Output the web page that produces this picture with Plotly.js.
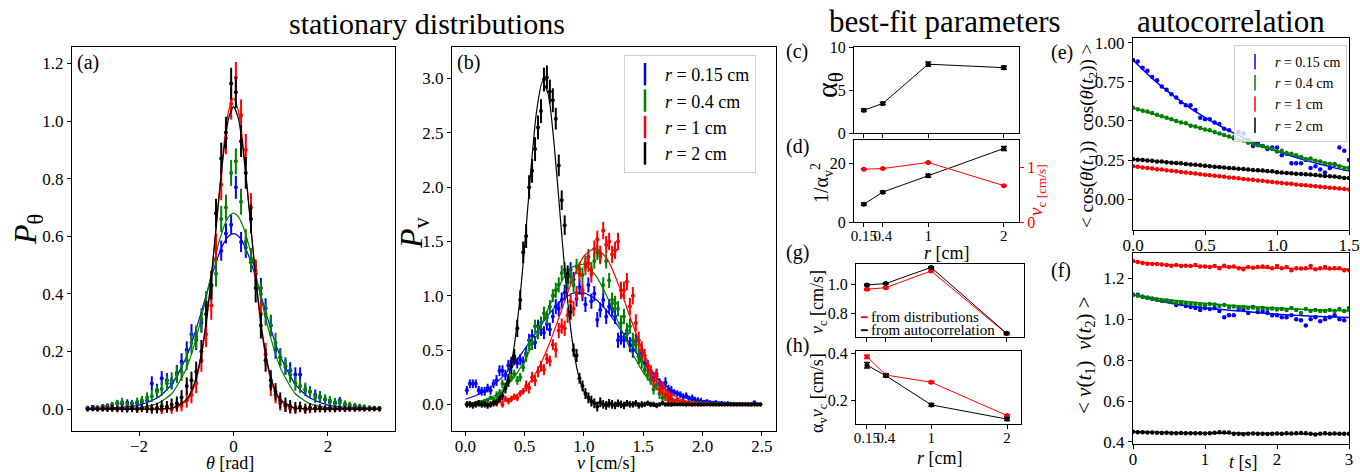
<!DOCTYPE html>
<html><head><meta charset="utf-8">
<script src="https://cdn.plot.ly/plotly-3.0.1.min.js"></script>
<style>html,body{margin:0;padding:0;background:#fff}#chart{width:1360px;height:472px}</style>
</head><body><div id="chart"></div>
<script>
// ---------------- DATA ----------------
// (a) angular distributions
const thetaBins = [-3.09,-2.98,-2.88,-2.77,-2.67,-2.57,-2.46,-2.36,-2.25,-2.15,-2.04,-1.94,-1.83,-1.73,-1.62,-1.52,-1.41,-1.31,-1.20,-1.10,-0.99,-0.89,-0.79,-0.68,-0.58,-0.47,-0.37,-0.26,-0.16,-0.05,0.05,0.16,0.26,0.37,0.47,0.58,0.68,0.79,0.89,0.99,1.10,1.20,1.31,1.41,1.52,1.62,1.73,1.83,1.94,2.04,2.15,2.25,2.36,2.46,2.57,2.67,2.77,2.88,2.98,3.09];
const pThetaBlue = [0.005,0.008,0.006,0.010,0.012,0.015,0.020,0.018,0.022,0.020,0.020,0.025,0.030,0.089,0.066,0.107,0.100,0.090,0.125,0.164,0.205,0.260,0.240,0.300,0.360,0.430,0.520,0.550,0.610,0.640,0.770,0.580,0.560,0.510,0.480,0.420,0.350,0.290,0.205,0.180,0.147,0.135,0.120,0.120,0.066,0.060,0.050,0.040,0.033,0.025,0.020,0.030,0.015,0.012,0.010,0.008,0.006,0.005,0.004,0.004];
const pThetaGreen = [0.003,0.005,0.006,0.008,0.010,0.014,0.020,0.025,0.015,0.018,0.025,0.030,0.040,0.045,0.060,0.070,0.090,0.100,0.120,0.130,0.170,0.230,0.250,0.310,0.370,0.420,0.470,0.660,0.700,0.820,0.860,0.720,0.580,0.520,0.470,0.400,0.330,0.290,0.230,0.180,0.150,0.120,0.090,0.080,0.070,0.060,0.040,0.045,0.035,0.030,0.025,0.022,0.018,0.015,0.012,0.010,0.008,0.006,0.005,0.004];
const pThetaRed = [0.000,0.000,0.002,0.000,0.003,0.000,0.002,0.000,0.003,0.001,0.000,0.002,0.000,0.004,0.000,-0.002,0.002,0.000,0.008,0.012,0.030,0.050,0.090,0.170,0.260,0.360,0.560,0.780,0.940,1.060,1.150,1.020,0.900,0.700,0.470,0.330,0.190,0.080,0.050,0.020,0.010,0.002,0.000,0.004,-0.002,0.000,0.003,0.000,0.002,0.000,0.001,0.000,0.002,0.000,0.001,0.000,0.000,0.001,0.000,0.000];
const pThetaBlack = [0.000,0.001,0.000,0.002,0.000,0.003,0.000,0.002,0.000,0.003,0.000,0.005,0.002,0.000,0.004,0.010,0.008,0.015,0.020,0.040,0.080,0.100,0.130,0.200,0.330,0.430,0.680,0.870,0.960,1.130,1.100,0.930,0.820,0.660,0.420,0.290,0.170,0.100,0.060,0.030,0.015,0.010,0.005,0.008,0.003,0.005,0.002,0.004,0.000,0.003,0.000,0.002,0.000,0.001,0.000,0.001,0.000,0.000,0.001,0.000];
const errThetaBlue = [0.006,0.006,0.006,0.008,0.008,0.010,0.012,0.012,0.012,0.012,0.012,0.014,0.016,0.025,0.022,0.025,0.025,0.022,0.028,0.030,0.030,0.035,0.035,0.035,0.035,0.035,0.035,0.035,0.035,0.035,0.040,0.035,0.035,0.035,0.035,0.035,0.035,0.035,0.030,0.030,0.028,0.028,0.025,0.025,0.020,0.020,0.018,0.016,0.015,0.014,0.012,0.012,0.010,0.010,0.008,0.008,0.006,0.006,0.006,0.005];
const errThetaGreen = [0.004,0.005,0.006,0.007,0.008,0.010,0.012,0.014,0.012,0.013,0.015,0.016,0.018,0.020,0.022,0.024,0.026,0.028,0.030,0.032,0.035,0.038,0.040,0.040,0.040,0.040,0.045,0.045,0.045,0.045,0.045,0.045,0.045,0.040,0.040,0.040,0.040,0.038,0.035,0.032,0.030,0.028,0.026,0.024,0.022,0.020,0.018,0.018,0.016,0.015,0.014,0.013,0.012,0.011,0.010,0.009,0.008,0.007,0.006,0.005];
const errThetaRed = [0.008,0.008,0.009,0.009,0.010,0.010,0.011,0.011,0.012,0.012,0.012,0.013,0.013,0.014,0.014,0.015,0.015,0.016,0.018,0.020,0.025,0.030,0.035,0.040,0.045,0.050,0.050,0.055,0.055,0.055,0.055,0.055,0.055,0.050,0.050,0.045,0.040,0.035,0.030,0.025,0.020,0.018,0.016,0.015,0.015,0.014,0.013,0.012,0.012,0.011,0.011,0.010,0.010,0.009,0.009,0.008,0.008,0.008,0.008,0.008];
const errThetaBlack = [0.008,0.008,0.009,0.009,0.010,0.010,0.011,0.011,0.012,0.012,0.013,0.014,0.015,0.016,0.018,0.020,0.020,0.022,0.024,0.026,0.030,0.030,0.035,0.040,0.045,0.050,0.050,0.055,0.055,0.055,0.055,0.055,0.055,0.050,0.050,0.045,0.040,0.035,0.030,0.028,0.025,0.022,0.020,0.018,0.016,0.015,0.014,0.013,0.012,0.011,0.011,0.010,0.010,0.009,0.009,0.008,0.008,0.008,0.008,0.008];
// (a) fitted curves
const thetaFit = [-3.1,-2.5,-2.0,-1.6,-1.3,-1.0,-0.9,-0.8,-0.7,-0.6,-0.5,-0.4,-0.3,-0.2,-0.1,0,0.1,0.2,0.3,0.4,0.5,0.6,0.7,0.8,0.9,1.0,1.3,1.6,2.0,2.5,3.1];
const fitThetaBlue = [0.003,0.005,0.014,0.040,0.0875,0.180,0.223,0.273,0.327,0.383,0.440,0.494,0.541,0.578,0.601,0.609,0.601,0.578,0.541,0.494,0.440,0.383,0.327,0.273,0.223,0.180,0.0875,0.040,0.014,0.005,0.003];
const fitThetaGreen = [0.0007,0.0014,0.005,0.020,0.055,0.140,0.186,0.241,0.303,0.373,0.447,0.519,0.584,0.635,0.668,0.680,0.668,0.635,0.584,0.519,0.447,0.373,0.303,0.241,0.186,0.140,0.055,0.020,0.005,0.0014,0.0007];
const fitThetaRed = [0,0,0,0.0003,0.003,0.027,0.052,0.096,0.165,0.266,0.406,0.575,0.755,0.921,1.038,1.080,1.038,0.921,0.755,0.575,0.406,0.266,0.165,0.096,0.052,0.027,0.003,0.0003,0,0,0];
const fitThetaBlack = [0,0,0,0.0004,0.004,0.032,0.059,0.105,0.176,0.278,0.414,0.576,0.747,0.903,1.011,1.050,1.011,0.903,0.747,0.576,0.414,0.278,0.176,0.105,0.059,0.032,0.004,0.0004,0,0,0];

// (b) speed distributions
const vBins = [0.0125,0.0375,0.0625,0.0875,0.1125,0.1375,0.1625,0.1875,0.2125,0.2375,0.2625,0.2875,0.3125,0.3375,0.3625,0.3875,0.4125,0.4375,0.4625,0.4875,0.5125,0.5375,0.5625,0.5875,0.6125,0.6375,0.6625,0.6875,0.7125,0.7375,0.7625,0.7875,0.8125,0.8375,0.8625,0.8875,0.9125,0.9375,0.9625,0.9875,1.0125,1.0375,1.0625,1.0875,1.1125,1.1375,1.1625,1.1875,1.2125,1.2375,1.2625,1.2875,1.3125,1.3375,1.3625,1.3875,1.4125,1.4375,1.4625,1.4875,1.5125,1.5375,1.5625,1.5875,1.6125,1.6375,1.6625,1.6875,1.7125,1.7375,1.7625,1.7875,1.8125,1.8375,1.8625,1.8875,1.9125,1.9375,1.9625,1.9875,2.0125,2.0375,2.0625,2.0875,2.1125,2.1375,2.1625,2.1875,2.2125,2.2375,2.2625,2.2875,2.3125,2.3375,2.3625,2.3875,2.4125,2.4375,2.4625,2.4875];
const pvBlue = [0.13,0.19,0.19,0.19,0.13,0.12,0.12,0.15,0.13,0.19, 0.22,0.31,0.31,0.27,0.36,0.39,0.41,0.38,0.41,0.39, 0.47,0.59,0.63,0.57,0.72,0.69,0.66,0.74,0.69,0.81, 0.90,0.88,0.96,1.03,1.17,1.24,1.15,0.97,1.08,1.02, 0.92,1.10,0.95,1.02,0.78,0.87,0.96,0.81,0.90,0.88, 0.81,0.59,0.62,0.59,0.65,0.55,0.50,0.58,0.44,0.47, 0.38,0.36,0.30,0.25,0.28,0.19,0.16,0.20,0.13,0.12, 0.11,0.10,0.09,0.07,0.08,0.05,0.06,0.04,0.035,0.03, 0.025,0.03,0.02,0.015,0.02,0.01,0.012,0.008,0.01,0.006, 0.005,0.004,0.006,0.003,0.004,0.002,0.003,0.02,0.002,0.001];
const pvGreen = [0.00,0.01,0.00,0.01,0.02,0.02,0.03,0.04,0.06,0.05, 0.08,0.10,0.19,0.15,0.22,0.25,0.28,0.22,0.25,0.34, 0.45,0.55,0.56,0.72,0.66,0.75,0.84,0.80,0.90,1.00, 1.05,1.10,1.21,1.24,1.12,1.18,1.10,1.27,1.24,1.19, 1.30,1.36,1.24,1.32,1.40,1.36,1.10,1.32,1.14,0.96, 0.93,0.88,0.75,0.81,0.68,0.72,0.59,0.55,0.44,0.40, 0.32,0.27,0.23,0.14,0.18,0.10,0.06,0.08,0.04,0.05, 0.03,0.04,0.02,0.03,0.015,0.02,0.01,0.012,0.008,0.01, 0.006,0.005,0.004,0.003,0.004,0.002,0.002,0.001,0.002,0.001, 0.001,0.000,0.001,0.000,0.001,0.000,0.000,0.001,0.000,0.000];
const pvRed = [0.00,0.00,0.00,0.00,0.00,0.00,0.01,0.00,0.00,0.01, 0.01,0.04,0.00,0.05,0.03,0.05,0.07,0.06,0.10,0.12, 0.17,0.15,0.25,0.22,0.30,0.35,0.32,0.42,0.40,0.55, 0.50,0.68,0.72,0.70,0.82,0.95,0.88,1.02,1.20,1.05, 1.27,1.30,1.20,1.43,1.52,1.38,1.60,1.47,1.50,1.38, 1.42,1.50,1.05,1.05,1.13,0.90,1.00,0.75,0.59,0.50, 0.45,0.35,0.30,0.22,0.26,0.14,0.15,0.09,0.07,0.05, 0.02,0.04,0.01,0.02,0.00,0.01,0.00,0.01,0.00,0.00, 0.00,0.01,0.00,0.00,0.00,0.00,0.00,0.00,0.00,0.00, 0.00,0.00,0.00,0.00,0.00,0.00,0.00,0.00,0.00,0.00];
const pvBlack = [0.00,0.00,-0.01,0.00,0.01,0.00,0.00,-0.01,0.00,0.01, 0.02,0.05,0.08,0.15,0.22,0.35,0.44,0.70,0.96,1.40, 1.55,2.00,2.15,2.35,2.55,2.70,2.99,3.01,2.88,2.80, 2.63,2.20,1.88,1.65,1.20,0.85,0.50,0.45,0.24,0.17, 0.10,0.06,0.03,0.01,-0.02,0.02,0.00,-0.01,0.01,0.00, -0.01,0.01,0.00,-0.01,0.01,0.00,0.00,0.01,-0.01,0.00, 0.00,0.01,0.00,0.00,-0.01,0.00,0.01,0.00,0.00,0.00, 0.00,0.00,0.00,0.00,0.00,0.00,0.00,0.00,0.00,0.00, 0.00,0.00,0.00,0.00,0.00,0.00,0.00,0.00,0.00,0.00, 0.00,0.00,0.00,0.00,0.00,0.00,0.00,0.00,0.00,0.00];
const errVBlue = [0.04,0.04,0.04,0.04,0.04,0.04,0.04,0.04,0.04,0.04, 0.05,0.05,0.05,0.05,0.05,0.05,0.05,0.05,0.05,0.05, 0.06,0.06,0.06,0.06,0.06,0.06,0.06,0.06,0.06,0.06, 0.07,0.07,0.07,0.07,0.07,0.07,0.07,0.07,0.07,0.07, 0.07,0.07,0.07,0.07,0.07,0.07,0.07,0.07,0.07,0.07, 0.07,0.07,0.07,0.07,0.07,0.07,0.07,0.07,0.07,0.07, 0.05,0.05,0.05,0.05,0.05,0.05,0.05,0.05,0.05,0.05, 0.03,0.03,0.03,0.03,0.03,0.03,0.03,0.03,0.03,0.03, 0.015,0.015,0.015,0.015,0.015,0.015,0.015,0.015,0.015,0.015, 0.008,0.008,0.008,0.008,0.008,0.008,0.008,0.008,0.008,0.008];
const errVGreen = [0.02,0.02,0.02,0.02,0.02,0.02,0.02,0.02,0.02,0.02, 0.04,0.04,0.04,0.04,0.04,0.04,0.04,0.04,0.04,0.04, 0.06,0.06,0.06,0.06,0.06,0.06,0.06,0.06,0.06,0.06, 0.07,0.07,0.07,0.07,0.07,0.07,0.07,0.07,0.07,0.07, 0.07,0.07,0.07,0.07,0.07,0.07,0.07,0.07,0.07,0.07, 0.07,0.07,0.07,0.07,0.07,0.07,0.07,0.07,0.07,0.07, 0.05,0.05,0.05,0.05,0.05,0.05,0.05,0.05,0.05,0.05, 0.02,0.02,0.02,0.02,0.02,0.02,0.02,0.02,0.02,0.02, 0.01,0.01,0.01,0.01,0.01,0.01,0.01,0.01,0.01,0.01, 0.005,0.005,0.005,0.005,0.005,0.005,0.005,0.005,0.005,0.005];
const errVRed = [0.015,0.015,0.015,0.015,0.015,0.015,0.015,0.015,0.015,0.015, 0.03,0.03,0.03,0.03,0.03,0.03,0.03,0.03,0.03,0.03, 0.05,0.05,0.05,0.05,0.05,0.05,0.05,0.05,0.05,0.05, 0.07,0.07,0.07,0.07,0.07,0.07,0.07,0.07,0.07,0.07, 0.08,0.08,0.08,0.08,0.08,0.08,0.08,0.08,0.08,0.08, 0.08,0.08,0.08,0.08,0.08,0.08,0.08,0.08,0.08,0.08, 0.06,0.06,0.06,0.06,0.06,0.06,0.06,0.06,0.06,0.06, 0.02,0.02,0.02,0.02,0.02,0.02,0.02,0.02,0.02,0.02, 0.01,0.01,0.01,0.01,0.01,0.01,0.01,0.01,0.01,0.01, 0.005,0.005,0.005,0.005,0.005,0.005,0.005,0.005,0.005,0.005];
const errVBlack = [0.03,0.03,0.03,0.03,0.03,0.03,0.03,0.03,0.03,0.03, 0.03,0.03,0.04,0.05,0.06,0.07,0.07,0.08,0.09,0.10, 0.11,0.11,0.11,0.11,0.11,0.11,0.11,0.11,0.11,0.11, 0.10,0.10,0.09,0.09,0.08,0.07,0.06,0.06,0.05,0.05, 0.05,0.05,0.05,0.045,0.045,0.045,0.04,0.04,0.04,0.04, 0.035,0.035,0.035,0.035,0.03,0.03,0.03,0.03,0.03,0.03, 0.025,0.025,0.025,0.025,0.025,0.02,0.02,0.02,0.02,0.02, 0.015,0.015,0.015,0.015,0.015,0.015,0.015,0.015,0.015,0.015, 0.01,0.01,0.01,0.01,0.01,0.01,0.01,0.01,0.01,0.01, 0.008,0.008,0.008,0.008,0.008,0.008,0.008,0.008,0.008,0.008];
// (b) fitted curves
const vFit = [0,0.1,0.2,0.3,0.4,0.5,0.6,0.7,0.8,0.9,1.0,1.1,1.2,1.3,1.4,1.5,1.6,1.7,1.8,1.9,2.0,2.1,2.2,2.3,2.4,2.5];
const fitVBlue = [0.047,0.086,0.149,0.239,0.361,0.508,0.669,0.823,0.948,1.021,1.027,0.967,0.851,0.701,0.539,0.388,0.261,0.164,0.097,0.053,0.027,0.013,0.006,0.0024,0.0009,0.0003];
const fitVGreen = [0.009,0.024,0.057,0.122,0.234,0.404,0.629,0.882,1.112,1.262,1.289,1.185,0.980,0.729,0.489,0.295,0.160,0.078,0.034,0.0136,0.0048,0.0015,0.0004,0.0001,0,0];
const fitVRed = [0.0006,0.0024,0.0083,0.0247,0.0648,0.149,0.301,0.535,0.832,1.138,1.366,1.439,1.331,1.080,0.770,0.482,0.264,0.127,0.054,0.020,0.0065,0.0019,0.0005,0.0001,0,0];
const vFitBlack = [0,0.1,0.2,0.25,0.3,0.35,0.4,0.45,0.5,0.55,0.6,0.65,0.7,0.75,0.8,0.85,0.9,0.95,1.0,1.05,1.1,1.2,1.5,2.0,2.5];
const fitVBlack = [0,0.0005,0.008,0.028,0.081,0.205,0.454,0.873,1.461,2.127,2.696,2.972,2.850,2.378,1.727,1.091,0.599,0.286,0.119,0.043,0.014,0.001,0,0,0];

// (c,d,g,h) best-fit parameters
const rVals = [0.15, 0.4, 1, 2];
const rTickText = ['0.15','0.4','1','2'];
const alphaTheta = [2.65, 3.43, 8.0, 7.6];
const errAlphaTheta = [0.15, 0.15, 0.25, 0.2];
const invAlphaV2 = [6.1, 10.2, 15.8, 25.1];
const errInvAlphaV2 = [0.4, 0.4, 0.5, 0.7];
const vcDist = [0.966, 0.977, 1.09, 0.665];
const errVcDist = [0.006, 0.006, 0.006, 0.006];
const vcAuto = [0.995, 1.005, 1.114, 0.668];
const errVcAuto = [0.005, 0.005, 0.005, 0.005];
const avVcDist = [0.386, 0.308, 0.277, 0.134];
const errAvVcDist = [0.007, 0.005, 0.004, 0.004];
const avVcAuto = [0.350, 0.305, 0.180, 0.119];
const errAvVcAuto = [0.012, 0.006, 0.006, 0.006];
const methodLabels = ['from distributions', 'from autocorrelation'];

// (e) orientation autocorrelation
const tE = [0,0.033,0.067,0.1,0.133,0.167,0.2,0.233,0.267,0.3,0.333,0.367,0.4,0.433,0.467,0.5,0.533,0.567,0.6,0.633,0.667,0.7,0.733,0.767,0.8,0.833,0.867,0.9,0.933,0.967,1.0,1.033,1.067,1.1,1.133,1.167,1.2,1.233,1.267,1.3,1.333,1.367,1.4,1.433,1.467,1.5];
const cosBlue = [0.89,0.88,0.84,0.82,0.78,0.76,0.72,0.70,0.67,0.65,0.62,0.60,0.60,0.57,0.52,0.51,0.51,0.49,0.48,0.45,0.44,0.39,0.43,0.42,0.38,0.34,0.36,0.34,0.32,0.33,0.33,0.28,0.29,0.23,0.23,0.23,0.25,0.20,0.21,0.19,0.17,0.20,0.22,0.33,0.31,0.25];
const cosGreen = [0.585,0.575,0.565,0.56,0.55,0.54,0.53,0.52,0.51,0.50,0.49,0.485,0.47,0.465,0.455,0.445,0.44,0.43,0.42,0.41,0.40,0.395,0.38,0.375,0.36,0.355,0.345,0.34,0.33,0.32,0.305,0.31,0.295,0.29,0.28,0.27,0.255,0.26,0.245,0.24,0.23,0.225,0.225,0.21,0.195,0.20];
const cosRed = [0.21,0.207,0.203,0.2,0.196,0.192,0.189,0.185,0.181,0.178,0.174,0.171,0.167,0.164,0.16,0.156,0.153,0.149,0.147,0.143,0.139,0.137,0.133,0.129,0.126,0.124,0.119,0.117,0.113,0.11,0.107,0.103,0.1,0.098,0.094,0.091,0.089,0.085,0.082,0.08,0.076,0.073,0.071,0.068,0.065,0.062];
const cosBlack = [0.255,0.252,0.25,0.247,0.245,0.241,0.24,0.236,0.233,0.231,0.229,0.225,0.222,0.22,0.217,0.213,0.211,0.208,0.206,0.203,0.2,0.198,0.195,0.193,0.19,0.187,0.185,0.183,0.18,0.178,0.172,0.17,0.168,0.166,0.163,0.161,0.16,0.157,0.155,0.152,0.148,0.147,0.145,0.14,0.135,0.135];
const tFitE = [0,0.1,0.2,0.3,0.4,0.5,0.6,0.7,0.8,0.9,1.0,1.1,1.2,1.3,1.4,1.5];
const fitCosBlue = [0.89,0.800,0.719,0.647,0.581,0.523,0.470,0.422,0.380,0.341,0.307,0.276,0.248,0.223,0.200,0.180];
const fitCosGreen = [0.585,0.555,0.528,0.500,0.472,0.445,0.418,0.390,0.362,0.333,0.307,0.284,0.262,0.240,0.220,0.200];
const fitCosRed = [0.21,0.199,0.188,0.177,0.166,0.156,0.146,0.136,0.126,0.116,0.106,0.097,0.088,0.079,0.070,0.062];
const fitCosBlack = [0.255,0.247,0.239,0.230,0.222,0.213,0.204,0.195,0.187,0.179,0.171,0.164,0.157,0.150,0.142,0.135];

// (f) speed autocorrelation
const tF = [0,0.067,0.133,0.2,0.267,0.333,0.4,0.467,0.533,0.6,0.667,0.733,0.8,0.867,0.933,1.0,1.067,1.133,1.2,1.267,1.333,1.4,1.467,1.533,1.6,1.667,1.733,1.8,1.867,1.933,2.0,2.067,2.133,2.2,2.267,2.333,2.4,2.467,2.533,2.6,2.667,2.733,2.8,2.867,2.933,3.0];
const vvBlue = [1.12,1.12,1.11,1.105,1.10,1.095,1.09,1.09,1.085,1.07,1.075,1.065,1.06,1.055,1.045,1.055,1.05,1.055,1.04,1.01,1.02,1.02,1.05,1.05,1.03,1.06,1.035,1.04,1.03,1.02,1.02,1.01,1.01,1.02,1.00,0.995,0.97,1.00,1.01,0.99,1.00,1.01,1.02,1.00,0.995,1.05];
const vvGreen = [1.12,1.115,1.11,1.105,1.10,1.095,1.09,1.09,1.085,1.08,1.082,1.078,1.075,1.075,1.07,1.068,1.075,1.072,1.065,1.07,1.06,1.062,1.058,1.06,1.055,1.058,1.05,1.055,1.05,1.052,1.048,1.05,1.045,1.055,1.045,1.03,1.05,1.04,1.045,1.04,1.04,1.045,1.04,1.05,1.04,1.055];
const vvRed = [1.285,1.28,1.275,1.272,1.27,1.27,1.268,1.265,1.262,1.265,1.26,1.262,1.26,1.265,1.258,1.258,1.255,1.26,1.25,1.262,1.255,1.258,1.25,1.245,1.255,1.252,1.255,1.258,1.255,1.25,1.26,1.25,1.255,1.24,1.25,1.248,1.25,1.26,1.245,1.25,1.255,1.248,1.25,1.25,1.24,1.24];
const vvBlack = [0.45,0.448,0.447,0.446,0.446,0.445,0.444,0.445,0.443,0.443,0.444,0.442,0.443,0.442,0.442,0.441,0.443,0.445,0.447,0.446,0.446,0.44,0.44,0.438,0.44,0.441,0.44,0.44,0.439,0.44,0.441,0.44,0.442,0.441,0.442,0.444,0.443,0.44,0.436,0.44,0.442,0.44,0.441,0.44,0.44,0.44];
const tFitF = [0,0.5,1,1.5,2,2.5,3];
const fitVvBlue = [1.12,1.08,1.055,1.04,1.025,1.015,1.008];
const fitVvGreen = [1.12,1.095,1.078,1.065,1.055,1.046,1.04];
const fitVvRed = [1.282,1.266,1.258,1.253,1.25,1.247,1.245];
const fitVvBlack = [0.45,0.446,0.443,0.442,0.441,0.44,0.44];

const radiusLabels = ['<i>r</i> = 0.15 cm','<i>r</i> = 0.4 cm','<i>r</i> = 1 cm','<i>r</i> = 2 cm'];
const colors = ['#0000ff','#008000','#ff0000','#000000'];

// ---------------- BUILD ----------------
const W = 1360, H = 472;
const serif = 'Liberation Serif';
const dom = (a, b) => [a / W, b / W];
const domY = (top, bottom) => [1 - bottom / H, 1 - top / H];

function ax(extra) {
  return Object.assign({
    showline: true, mirror: true, linecolor: 'black', linewidth: 1,
    ticks: 'outside', ticklen: 4, tickwidth: 1, tickcolor: 'black',
    showgrid: false, zeroline: false, fixedrange: true, tickangle: 0,
    tickfont: {family: serif, size: 16, color: 'black'}
  }, extra);
}

const traces = [];
function errPts(x, y, err, color, xa, ya) {
  traces.push({type: 'scatter', mode: 'markers', x: x, y: y, xaxis: xa, yaxis: ya, showlegend: false,
    marker: {color: color, size: 4},
    error_y: {type: 'data', array: err, visible: true, color: color, thickness: 2, width: 0}});
}
function fitLine(x, y, color, xa, ya, w) {
  traces.push({type: 'scatter', mode: 'lines', x: x, y: y, xaxis: xa, yaxis: ya, showlegend: false,
    line: {color: color, width: w || 1.2, shape: 'spline', smoothing: 0.6}});
}
function dots(x, y, color, xa, ya) {
  traces.push({type: 'scatter', mode: 'markers', x: x, y: y, xaxis: xa, yaxis: ya, showlegend: false,
    marker: {color: color, size: 4.5}});
}
function paramLine(y, err, color, xa, ya) {
  traces.push({type: 'scatter', mode: 'lines+markers', x: rVals, y: y, xaxis: xa, yaxis: ya, showlegend: false,
    line: {color: color, width: 1}, marker: {color: color, size: 5},
    error_y: {type: 'data', array: err, visible: true, color: color, thickness: 1.5, width: 3}});
}

// (a)
const aSets = [[pThetaBlue, errThetaBlue, fitThetaBlue],[pThetaGreen, errThetaGreen, fitThetaGreen],[pThetaRed, errThetaRed, fitThetaRed],[pThetaBlack, errThetaBlack, fitThetaBlack]];
aSets.forEach((s, i) => { errPts(thetaBins, s[0], s[1], colors[i], 'x', 'y'); fitLine(thetaFit, s[2], colors[i], 'x', 'y'); });
// (b)
const bSets = [[pvBlue, errVBlue, vFit, fitVBlue],[pvGreen, errVGreen, vFit, fitVGreen],[pvRed, errVRed, vFit, fitVRed],[pvBlack, errVBlack, vFitBlack, fitVBlack]];
bSets.forEach((s, i) => { errPts(vBins, s[0], s[1], colors[i], 'x2', 'y2'); fitLine(s[2], s[3], colors[i], 'x2', 'y2'); });
radiusLabels.forEach((lab, i) => traces.push({type: 'scatter', mode: 'markers', x: [null], y: [null], xaxis: 'x2', yaxis: 'y2',
  name: lab, legend: 'legend', showlegend: true,
  marker: {symbol: 'line-ns-open', size: 16, color: colors[i], line: {width: 2.5, color: colors[i]}}}));
// (c)
paramLine(alphaTheta, errAlphaTheta, 'black', 'x3', 'y3');
// (d)
paramLine(invAlphaV2, errInvAlphaV2, 'black', 'x4', 'y4');
paramLine(vcDist, errVcDist, 'red', 'x4', 'y5');
// (g)
paramLine(vcDist, errVcDist, 'red', 'x6', 'y6');
paramLine(vcAuto, errVcAuto, 'black', 'x6', 'y6');
// (h)
paramLine(avVcDist, errAvVcDist, 'red', 'x7', 'y7');
paramLine(avVcAuto, errAvVcAuto, 'black', 'x7', 'y7');
// (e)
const eSets = [[cosBlue, fitCosBlue],[cosGreen, fitCosGreen],[cosRed, fitCosRed],[cosBlack, fitCosBlack]];
eSets.forEach((s, i) => { dots(tE, s[0], colors[i], 'x8', 'y8'); fitLine(tFitE, s[1], colors[i], 'x8', 'y8', 1.5); });
radiusLabels.forEach((lab, i) => traces.push({type: 'scatter', mode: 'markers', x: [null], y: [null], xaxis: 'x8', yaxis: 'y8',
  name: lab, legend: 'legend2', showlegend: true,
  marker: {symbol: 'line-ns-open', size: 11, color: colors[i], line: {width: 1.5, color: colors[i]}}}));
// (f)
const fSets = [[vvBlue, fitVvBlue],[vvGreen, fitVvGreen],[vvRed, fitVvRed],[vvBlack, fitVvBlack]];
fSets.forEach((s, i) => { dots(tF, s[0], colors[i], 'x9', 'y9'); fitLine(tFitF, s[1], colors[i], 'x9', 'y9', 1.5); });

function ann(text, px, py, size, extra) {
  return Object.assign({text: text, x: px / W, y: 1 - py / H, xref: 'paper', yref: 'paper', showarrow: false,
    xanchor: 'center', yanchor: 'middle', font: {family: serif, size: size, color: 'black'}}, extra || {});
}

const rAxis = {tickmode: 'array', tickvals: rVals, ticktext: rTickText};
const xStand = -4;

const layout = {
  width: W, height: H, margin: {l: 0, r: 0, t: 0, b: 0},
  paper_bgcolor: 'white', plot_bgcolor: 'white',
  font: {family: serif, color: 'black'},
  xaxis: ax({domain: dom(72, 395), range: [-3.42, 3.42], tickvals: [-2, 0, 2], anchor: 'y', ticklabelstandoff: xStand, tickfont: {family: serif, size: 17}}),
  yaxis: ax({domain: domY(47, 431), range: [-0.076, 1.257], tickvals: [0, 0.2, 0.4, 0.6, 0.8, 1.0, 1.2], tickformat: '.1f', anchor: 'x', tickfont: {family: serif, size: 17}}),
  xaxis2: ax({domain: dom(452, 776), range: [-0.113, 2.62], tickvals: [0, 0.5, 1, 1.5, 2, 2.5], tickformat: '.1f', anchor: 'y2', ticklabelstandoff: xStand, tickfont: {family: serif, size: 17}}),
  yaxis2: ax({domain: domY(47, 431), range: [-0.245, 3.29], tickvals: [0, 0.5, 1, 1.5, 2, 2.5, 3], tickformat: '.1f', anchor: 'x2', tickfont: {family: serif, size: 17}}),
  xaxis3: ax(Object.assign({domain: dom(854, 1019), range: [0.02, 2.2], anchor: 'y3', showticklabels: false}, rAxis)),
  yaxis3: ax({domain: domY(47, 133), range: [0, 10], tickvals: [0, 5, 10], anchor: 'x3'}),
  xaxis4: ax(Object.assign({domain: dom(854, 1019), range: [0.02, 2.2], anchor: 'y4', ticklabelstandoff: xStand, tickfont: {family: serif, size: 15}}, rAxis)),
  yaxis4: ax({domain: domY(140, 222), range: [0, 28], tickvals: [0, 20], anchor: 'x4'}),
  yaxis5: ax({overlaying: 'y4', side: 'right', anchor: 'x4', range: [0, 1.5], tickvals: [0, 1], showline: false, mirror: false,
    tickcolor: 'red', tickfont: {family: serif, size: 16, color: 'red'}}),
  xaxis6: ax(Object.assign({domain: dom(856, 1024), range: [0.005, 2.23], anchor: 'y6', showticklabels: false}, rAxis)),
  yaxis6: ax({domain: domY(264, 337), range: [0.643, 1.137], tickvals: [0.8, 1.0], tickformat: '.1f', anchor: 'x6'}),
  xaxis7: ax(Object.assign({domain: dom(856, 1021), range: [0.005, 2.185], anchor: 'y7', ticklabelstandoff: xStand, tickfont: {family: serif, size: 15}}, rAxis)),
  yaxis7: ax({domain: domY(351, 424), range: [0.098, 0.411], tickvals: [0.2, 0.4], tickformat: '.1f', anchor: 'x7'}),
  xaxis8: ax({domain: dom(1133, 1349), range: [0, 1.5], tickvals: [0, 0.5, 1, 1.5], tickformat: '.1f', anchor: 'y8', ticklabelstandoff: xStand, tickfont: {family: serif, size: 17}}),
  yaxis8: ax({domain: domY(38, 230), range: [-0.197, 1.03], tickvals: [0, 0.25, 0.5, 0.75, 1], tickformat: '.2f', anchor: 'x8', tickfont: {family: serif, size: 17}}),
  xaxis9: ax({domain: dom(1133, 1349), range: [0, 3], tickvals: [0, 1, 2, 3], anchor: 'y9', ticklabelstandoff: xStand, tickfont: {family: serif, size: 17}}),
  yaxis9: ax({domain: domY(253, 444), range: [0.39, 1.324], tickvals: [0.4, 0.6, 0.8, 1.0, 1.2], tickformat: '.1f', anchor: 'x9', tickfont: {family: serif, size: 17}}),
  legend: {x: 624 / W, y: 1 - 55 / H, xanchor: 'left', yanchor: 'top', bgcolor: 'rgba(255,255,255,0.8)', bordercolor: '#d0d0d0', borderwidth: 1,
    font: {family: serif, size: 18, color: 'black'}, itemwidth: 30, tracegroupgap: 0},
  legend2: {x: 1234 / W, y: 1 - 45 / H, xanchor: 'left', yanchor: 'top', bgcolor: 'rgba(255,255,255,0.8)', bordercolor: '#d0d0d0', borderwidth: 1,
    font: {family: serif, size: 14, color: 'black'}, itemwidth: 30, tracegroupgap: 0},
  annotations: [
    ann('stationary distributions', 427, 24, 30),
    ann('best-fit parameters', 945, 22, 31),
    ann('autocorrelation', 1231, 22, 31),
    ann('(a)', 88, 63, 20),
    ann('(b)', 468, 63, 20),
    ann('(c)', 797, 51, 20),
    ann('(d)', 797, 146, 20),
    ann('(g)', 797, 252, 20),
    ann('(h)', 797, 345, 20),
    ann('(e)', 1062, 52, 20),
    ann('(f)', 1061, 270, 20),
    ann('<i>P</i><sub>θ</sub>', 27, 230, 32, {textangle: -90}),
    ann('<i>θ</i> [rad]', 230, 463, 18),
    ann('<i>P</i><sub>v</sub>', 413, 232, 32, {textangle: -90}),
    ann('<i>v</i> [cm/s]', 606, 463, 18),
    ann('α<sub>θ</sub>', 829, 85, 30, {textangle: -90}),
    ann('1/α<sub>v</sub><sup>2</sup>', 822, 183, 20, {textangle: -90}),
    ann('<i>v</i><sub>c [cm/s]</sub>', 1037, 190, 19, {textangle: -90, font: {family: serif, size: 19, color: 'red'}}),
    ann('<i>r</i> [cm]', 947, 253, 18),
    ann('<i>v</i><sub>c</sub> [cm/s]', 818, 302, 18, {textangle: -90}),
    ann('α<sub>v</sub><i>v</i><sub>c</sub> [cm/s]', 818, 393, 18, {textangle: -90}),
    ann('<i>r</i> [cm]', 940, 458, 18),
    ann('<span style="color:red">━</span>', 864, 317, 11),
    ann('<span style="color:black">━</span>', 864, 330, 11),
    ann(methodLabels[0], 869, 317, 15, {xanchor: 'left'}),
    ann(methodLabels[1], 869, 330, 15, {xanchor: 'left'}),
    ann('< cos(<i>θ</i>(<i>t</i><sub>1</sub>))  cos(<i>θ</i>(<i>t</i><sub>2</sub>)) >', 1088, 136, 19, {textangle: -90}),
    ann('< <i>v</i>(<i>t</i><sub>1</sub>)  <i>v</i>(<i>t</i><sub>2</sub>) >', 1085, 355, 21, {textangle: -90}),
    ann('<i>t</i> [s]', 1243, 462, 18)
  ]
};

Plotly.newPlot('chart', traces, layout, {staticPlot: true, displayModeBar: false});
</script></body></html>
